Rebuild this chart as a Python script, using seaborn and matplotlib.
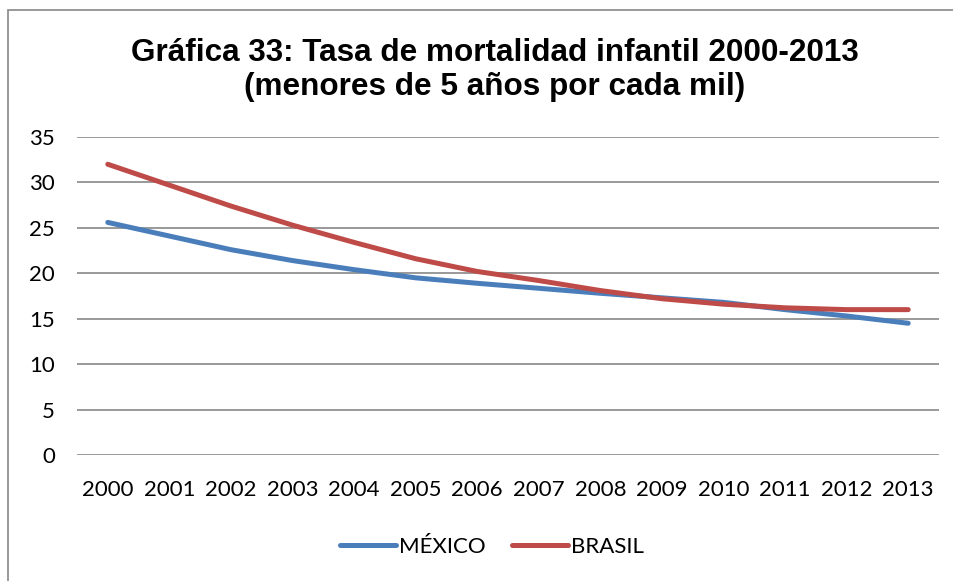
import matplotlib
matplotlib.use("Agg")
import matplotlib.pyplot as plt
from matplotlib.lines import Line2D
from matplotlib.patches import Rectangle
import seaborn as sns
import pandas as pd

years = [2000, 2001, 2002, 2003, 2004, 2005, 2006,
         2007, 2008, 2009, 2010, 2011, 2012, 2013]
mexico = [25.6, 24.1, 22.6, 21.4, 20.4, 19.5, 18.9,
          18.35, 17.8, 17.3, 16.8, 16.0, 15.3, 14.5]
brasil = [32.0, 29.7, 27.4, 25.3, 23.4, 21.6, 20.2,
          19.2, 18.1, 17.2, 16.6, 16.2, 16.0, 16.0]
series_names = ["MÉXICO", "BRASIL"]
colors = ["#4A7EBB", "#BE4B48"]
y_ticks = [0, 5, 10, 15, 20, 25, 30, 35]
title = ("Gráfica 33: Tasa de mortalidad infantil 2000-2013\n"
         "(menores de 5 años por cada mil)")

df = pd.DataFrame({
    "pos": list(range(len(years))) * 2,
    "valor": mexico + brasil,
    "serie": [series_names[0]] * len(years) + [series_names[1]] * len(years),
})

sns.set_theme(style="white")
plt.rcParams["font.family"] = ["Lato", "DejaVu Sans"]
plt.rcParams["text.color"] = "black"

W, H = 954, 581
fig = plt.figure(figsize=(W / 100, H / 100), dpi=100)
ax = fig.add_axes([77 / W, 1 - 455 / H, (939 - 77) / W, (455 - 137) / H])

sns.lineplot(data=df, x="pos", y="valor", hue="serie",
             palette=dict(zip(series_names, colors)),
             linewidth=3.6, ax=ax, legend=False,
             solid_capstyle="round", solid_joinstyle="round")

ax.set_xlim(-0.5, len(years) - 0.5)
ax.set_ylim(0, 35)
ax.set_yticks(y_ticks)
ax.set_xticks(range(len(years)))
ax.set_xticklabels([str(y) for y in years])
ax.set_xlabel("")
ax.set_ylabel("")
for s in ax.spines.values():
    s.set_visible(False)
ax.yaxis.grid(True, color="#878787", linewidth=1.2)
ax.xaxis.grid(False)
ax.set_axisbelow(True)
ax.tick_params(axis="both", length=0, labelsize=16, colors="black")
ax.tick_params(axis="y", pad=16)
ax.tick_params(axis="x", pad=18)

fig.text(495 / W, 1 - 70 / H, title, ha="center", va="center",
         fontsize=22.7, fontweight="bold", family="Liberation Sans",
         color="black", linespacing=1.2)

handles = [Line2D([0], [0], color=c, lw=3.6, solid_capstyle="round")
           for c in colors]
fig.legend(handles, series_names, loc="center",
           bbox_to_anchor=(492 / W, 1 - 547 / H), ncol=2, frameon=False,
           fontsize=16, handlelength=2.5, handletextpad=0.15,
           columnspacing=1.2)

fig.add_artist(Rectangle((8 / W, -0.05), 1.1, 1 - 10 / H + 0.05,
                         transform=fig.transFigure, fill=False,
                         edgecolor="#878787", linewidth=1.2))

fig.savefig("out.png", dpi=100, facecolor="white")
